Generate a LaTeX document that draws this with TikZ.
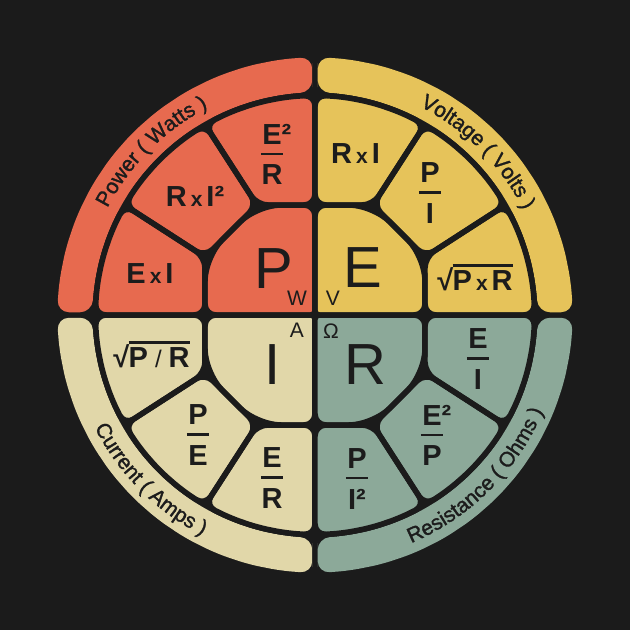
\documentclass[tikz,border=0pt]{standalone}
\usepackage{fontspec}
\setmainfont{Liberation Sans}
\newfontfamily\medfont[FakeBold=1.5]{Liberation Sans}
\usetikzlibrary{decorations.text}
\definecolor{bg}{HTML}{1B1B1B}
\definecolor{pw}{HTML}{E76A4F}
\definecolor{vo}{HTML}{E6C35A}
\definecolor{cu}{HTML}{E1D7A9}
\definecolor{re}{HTML}{8CA999}
\definecolor{ink}{HTML}{1C1C1C}
\newcommand\bigf{\fontsize{58}{58}\selectfont}
\newcommand\frf{\fontsize{29}{29}\bfseries\selectfont}
\newcommand\unf{\fontsize{21}{21}\selectfont}
\newcommand\bandf{\medfont\fontsize{21}{21}\selectfont}
\newcommand\tx{{\fontsize{21}{21}\selectfont\kern4pt x\kern4pt}}
\newcommand\tsl{{\fontsize{24}{24}\mdseries\selectfont\kern7pt /\kern7pt}}
\newcommand\fr[2]{\vbox{\offinterlineskip\hbox to 24pt{\hss#1\hss}\kern8pt\hbox to 24pt{\hss\vrule width 22pt height 2.6pt depth 0pt\hss}\kern9.5pt\hbox to 24pt{\hss#2\hss}}}
\newcommand\rt[1]{√\kern-0.5pt\vbox{\hrule height 2.4pt\kern3.5pt\hbox{#1}}}
\tikzset{
  bandpath/.style={insert path={(2.75,240) -- (2.75,258) -- (82.5:258) -- (75:258) -- (67.5:258) -- (60:258) -- (52.5:258) -- (45:258) -- (37.5:258) -- (30:258) -- (22.5:258) -- (15:258) -- (7.5:258) -- (258,2.75) -- (223,2.75) -- (7.5:223) -- (15:223) -- (22.5:223) -- (30:223) -- (37.5:223) -- (45:223) -- (52.5:223) -- (60:223) -- (67.5:223) -- (75:223) -- (82.5:223) -- (2.75,223) -- cycle}},
  centerpath/.style={insert path={(0,55) [rounded corners=4pt] -- (0,0) -- (55,0) [rounded corners=11pt] -- (110,0) -- (110,30) [rounded corners=24pt] -- (110,58) -- (58,110) -- (30,110) [rounded corners=11pt] -- (0,110) -- cycle}},
  cellA/.style={insert path={(165,0) -- (220,0) -- (7.5:220) -- (15:220) -- (22.5:220) -- (30:220) -- (110,58) -- (110,0) -- cycle}},
  cellM/.style={insert path={(84,84) -- (110,58) -- (30:220) -- (37.5:220) -- (45:220) -- (52.5:220) -- (60:220) -- (58,110) -- cycle}},
  cellB/.style={insert path={(0,165) -- (0,110) -- (58,110) -- (60:220) -- (67.5:220) -- (75:220) -- (82.5:220) -- (0,220) -- cycle}},
  gapline/.style={draw=bg, line width=5.5pt, line join=round},
  big/.style={font=\bigf, text=ink, inner sep=0pt},
  fml/.style={font=\frf, text=ink, inner sep=0pt},
  unit/.style={font=\unf, text=ink, inner sep=0pt},
  bandtext/.style={decorate, decoration={text along path, text={|\bandf|#1}, text align=center, text color=ink}}
}
\newcommand\drawquad[1]{%
  \path[fill=#1, rounded corners=12pt, bandpath];
  \path[fill=#1, centerpath];
  \path[fill=#1, rounded corners=11pt, cellA];
  \path[fill=#1, rounded corners=11pt, cellM];
  \path[fill=#1, rounded corners=11pt, cellB];
  \path[gapline, centerpath];
  \path[gapline, rounded corners=11pt, cellA];
  \path[gapline, rounded corners=11pt, cellM];
  \path[gapline, rounded corners=11pt, cellB];
}
\begin{document}
\begin{tikzpicture}[x=1pt,y=1pt]
\useasboundingbox (-315,-315) rectangle (315,315);
\fill[bg] (-315,-315) rectangle (315,315);
\begin{scope}\drawquad{vo}\end{scope}
\begin{scope}[xscale=-1]\drawquad{pw}\end{scope}
\begin{scope}[xscale=-1,yscale=-1]\drawquad{cu}\end{scope}
\begin{scope}[yscale=-1]\drawquad{re}\end{scope}
% band labels
\path[bandtext={Power ( Watts )}] (175:233.5) arc[start angle=175, end angle=95, radius=233.5];
\path[bandtext={Voltage ( Volts )}] (85:233.5) arc[start angle=85, end angle=5, radius=233.5];
\path[bandtext={Current ( Amps )}] (185:247.5) arc[start angle=185, end angle=265, radius=247.5];
\path[bandtext={Resistance ( Ohms )}] (275:247.5) arc[start angle=275, end angle=355, radius=247.5];
% big letters
\node[big] (P) at (-41,46) {P};
\node[big] (E) at (48,47) {E};
\node[big] (I) at (-42,-50) {I};
\node[big] (R) at (50,-50) {R};
\node[unit] (W) at (-18,17) {W};
\node[unit] (V) at (18,17) {V};
\node[unit] (A) at (-18,-15) {A};
\node[unit] (Om) at (16,-16) {Ω};
% formulas
\node[fml] (EI) at (-165,41.5) {E\tx I};
\node[fml] (RI2) at (-120,118.5) {R\tx I²};
\node[fml] (E2R) at (-43,160.5) {\fr{E\rlap{²}}{R}};
\node[fml] (RI) at (40.5,161.5) {R\tx I};
\node[fml] (PI) at (115,122) {\fr{P}{I}};
\node[fml, anchor=base] (sPR) at (160,25) {\rt{P\tx R}};
\node[fml, anchor=base] (sPdR) at (-163.5,-52) {\rt{P\tsl R}};
\node[fml] (PE) at (-117,-120) {\fr{P}{E}};
\node[fml] (ER) at (-43,-163) {\fr{E}{R}};
\node[fml] (EI2) at (163,-44) {\fr{E}{I}};
\node[fml] (E2P) at (117,-120.5) {\fr{E\rlap{²}}{P}};
\node[fml] (PI2) at (42,-164) {\fr{P}{I²}};
\end{tikzpicture}
\end{document}
